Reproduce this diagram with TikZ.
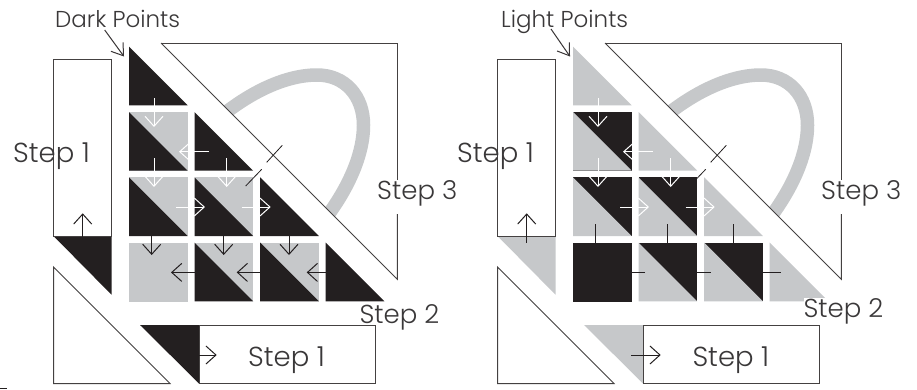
\documentclass[tikz,border=0pt]{standalone}
\usepackage{fontspec}
\setmainfont{Poppins Light}
\usetikzlibrary{arrows.meta}
\definecolor{ink}{HTML}{231F20}
\definecolor{pale}{HTML}{C6C8CA}
\definecolor{txt}{HTML}{3A3839}
\tikzset{
  x=1pt,y=-1pt,
  outl/.style={draw=ink!85,line width=1pt,line join=miter},
  barb/.style={-{Straight Barb[length=10pt,width=18pt,line width=1pt]},line width=1pt},
  wbarb/.style={barb,draw=white},
  dbarb/.style={barb,draw=ink},
  callout/.style={draw=ink!90,line width=1pt,-{Straight Barb[length=11pt,width=15pt,line width=1pt]}},
  hash/.style={draw=ink,line width=.8pt},
  lab/.style={anchor=base west,inner sep=0pt,text=txt,font=\fontsize{27.5}{27.5}\selectfont},
  labw/.style={anchor=base west,inner sep=0pt,text=txt,font=\fontsize{26}{26}\selectfont},
  toplab/.style={anchor=base west,inner sep=0pt,text=txt,font=\fontsize{23}{23}\selectfont},
}
\newcommand{\sqpair}[4]{% col x, row y, lower-left colour, upper-right colour
  \fill[#4] (#1,#2) rectangle ++(58.7,58.7);
  \fill[#3] (#1,#2) -- ++(0,58.7) -- ++(58.7,0) -- cycle;}
\newcommand{\tripoint}[3]{%
  \fill[#3] (#1,#2) -- ++(0,58.7) -- ++(58.7,0) -- cycle;}
\newcommand{\frames}{%
  \begin{scope}
    \clip (161,43) -- (397.3,43) -- (397.3,279.3) -- cycle;
    \draw[pale,line width=13.5pt] (205,130) .. controls (245,93) and (285,75) .. (317,75)
      .. controls (345,75) and (363.5,96) .. (363.5,125)
      .. controls (363.5,158) and (345,195) .. (318,228);
  \end{scope}
  \draw[outl] (397.3,180) -- (397.3,43) -- (161,43);
  \draw[outl,line width=.9pt] (161,43) -- (397.3,279.3) -- (397.3,214);
  \draw[hash] (266.7,162.3) -- (282.3,145.3);
  \draw[hash] (245.7,186) -- (261.7,169.3);
  \draw[outl] (53.5,236) rectangle (111.5,59.7);
  \draw[outl] (199,325) rectangle (375.5,383.5);
  \draw[outl] (53.5,267) -- (53.5,383.5) -- (170,383.5) -- cycle;
  \draw[dbarb] (82.7,242.7) -- (82.7,213.3);
  \draw[dbarb] (187,355) -- (216.7,355);
  \draw[wbarb] (154,98) -- (154,127);
  \draw[wbarb] (154,158) -- (154,187);
  \draw[wbarb] (226.7,158) -- (226.7,187);
  \draw[wbarb] (208.7,151.7) -- (179,151.7);
  \draw[wbarb] (176,207) -- (205,207);
  \draw[wbarb] (241.7,207) -- (270.7,207);
  \draw[dbarb] (151.7,224) -- (151.7,255);
  \draw[dbarb] (223.7,224) -- (223.7,255);
  \draw[dbarb] (289,224) -- (289,255);
  \draw[dbarb] (201,272.4) -- (171,272.4);
  \draw[dbarb] (266.7,272.4) -- (236.7,272.4);
  \draw[dbarb] (336.7,272.4) -- (306.7,272.4);
}
\begin{document}
\begin{tikzpicture}
\path[use as bounding box,fill=white] (0,0) rectangle (917,389);
% left sheet: dark points
\begin{scope}
  \tripoint{129}{46.7}{ink}
  \sqpair{129}{112}{ink}{pale}
  \tripoint{194.5}{112}{ink}
  \sqpair{129}{177.3}{ink}{pale}
  \sqpair{194.5}{177.3}{ink}{pale}
  \tripoint{260.2}{177.3}{ink}
  \fill[pale] (128.5,242.6) rectangle ++(59.5,59);
  \sqpair{194.5}{242.6}{ink}{pale}
  \sqpair{260.2}{242.6}{ink}{pale}
  \tripoint{325.7}{242.6}{ink}
  \fill[ink] (53.5,236) -- (111.5,236) -- (111.5,294.7) -- cycle;
  \fill[ink] (140,325) -- (199,325) -- (199,383.5) -- cycle;
  \frames
\end{scope}
% right sheet: light points
\begin{scope}[xshift=444pt]
  \tripoint{129}{46.7}{pale}
  \sqpair{129}{112}{pale}{ink}
  \tripoint{194.5}{112}{pale}
  \sqpair{129}{177.3}{pale}{ink}
  \sqpair{194.5}{177.3}{pale}{ink}
  \tripoint{260.2}{177.3}{pale}
  \fill[ink] (129,242.6) rectangle ++(59,59);
  \sqpair{194.5}{242.6}{pale}{ink}
  \sqpair{260.2}{242.6}{pale}{ink}
  \tripoint{325.7}{242.6}{pale}
  \fill[pale] (53.5,236) -- (111.5,236) -- (111.5,294.7) -- cycle;
  \fill[pale] (140,325) -- (199,325) -- (199,383.5) -- cycle;
  \frames
\end{scope}
% labels, left
\node[toplab] (darkl) at (55,27.7) {Dark Points};
\coordinate (darkt) at (124,56.5);
\coordinate (darks) at (104.7,30);
\draw[callout] (darks) -- (darkt);
\node[lab] (l1a) at (13,162) {Step 1};
\node[labw] (l3a) at (377,199) {Step 3};
\node[labw] (l2a) at (359.3,323) {Step 2};
\node[lab] (l1b) at (248,366) {Step 1};
% labels, right
\node[toplab] (lightl) at (501,27.7) {Light Points};
\coordinate (lightt) at (570,56.5);
\coordinate (lights) at (551,29);
\draw[callout] (lights) -- (lightt);
\node[lab] (r1a) at (457,162) {Step 1};
\node[labw] (r3a) at (821,199) {Step 3};
\node[labw,fill=white,text height=19pt,text depth=7pt] (r2a) at (803.3,317.3) {Step 2};
\node[lab] (r1b) at (692.3,366) {Step 1};
\draw[ink,line width=1.5pt] (0,388.4) -- (7,388.4);
\end{tikzpicture}
\end{document}
